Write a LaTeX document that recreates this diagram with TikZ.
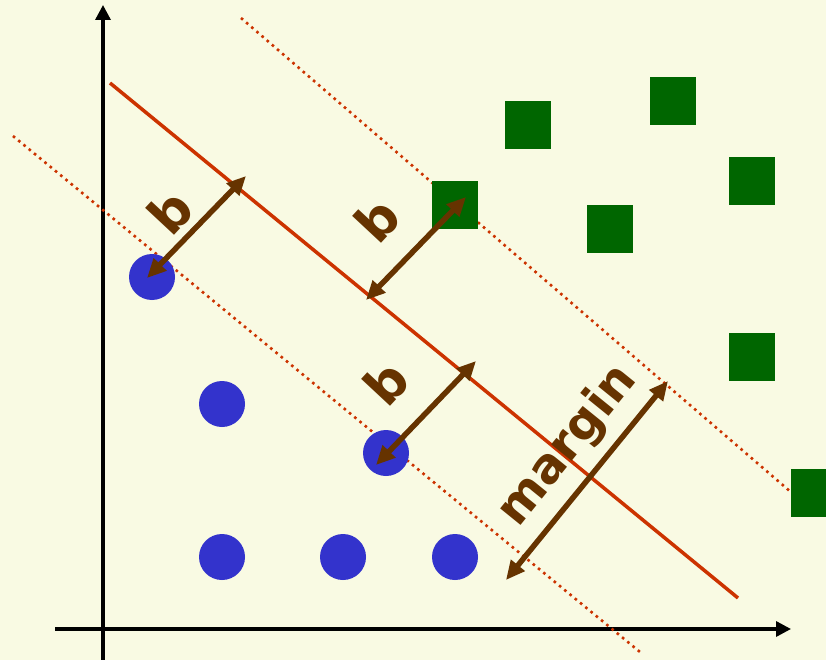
\documentclass[tikz,border=0pt]{standalone}
\usepackage{fontspec}
\newfontfamily\lblfont{DejaVu Sans}[BoldFont={DejaVu Sans Bold}]
\usetikzlibrary{arrows.meta}
\definecolor{bgc}{HTML}{F9FAE3}
\definecolor{redl}{HTML}{CC3300}
\definecolor{brn}{HTML}{663300}
\definecolor{blu}{HTML}{3333CC}
\definecolor{grn}{HTML}{006600}
\tikzset{
  axis/.style={line width=3.3pt,-{Triangle[length=15pt,width=15pt]}},
  hyper/.style={redl,line width=3.5pt},
  marginline/.style={redl,line width=2.6pt,dash pattern=on 2.6pt off 4.2pt},
  darr/.style={brn,line width=5.5pt,{Triangle[length=19pt,width=17pt]}-{Triangle[length=19pt,width=17pt]}},
  dot/.style={circle,fill=blu,minimum size=46pt,inner sep=0pt},
  sq/.style={rectangle,fill=grn,minimum width=46pt,minimum height=48pt,inner sep=0pt},
  lbl/.style={text=brn,font=\lblfont\bfseries\fontsize{52}{52}\selectfont,inner sep=0pt},
  mlbl/.style={text=brn,font=\lblfont\bfseries\fontsize{48}{48}\selectfont,inner sep=0pt}
}
\begin{document}
\begin{tikzpicture}[x=1pt,y=-1pt]
\fill[bgc] (0,0) rectangle (826,660);
\useasboundingbox (0,0) rectangle (826,660);
% axes
\coordinate (yb) at (103,660);
\coordinate (yt) at (103,5);
\coordinate (xl) at (55,629);
\coordinate (xr) at (791,629);
\draw[axis] (yb) -- (yt);
\draw[axis] (xl) -- (xr);
% separating line and margins
\coordinate (hs) at (110,83);
\coordinate (he) at (738,598);
\coordinate (us) at (241,18);
\coordinate (ue) at (792,493);
\coordinate (ls) at (13,136);
\coordinate (le) at (640,652);
\draw[marginline] (us) -- (ue);
\draw[marginline] (ls) -- (le);
\draw[hyper] (hs) -- (he);
% blue points
\node[dot] (c1) at (152,277) {};
\node[dot] (c2) at (222,404) {};
\node[dot] (c3) at (386,453) {};
\node[dot] (c4) at (222,557) {};
\node[dot] (c5) at (343,557) {};
\node[dot] (c6) at (455,557) {};
% green points
\node[sq] (s1) at (528,125) {};
\node[sq] (s2) at (673,101) {};
\node[sq] (s3) at (752,181) {};
\node[sq] (s4) at (455,205) {};
\node[sq] (s5) at (610,229) {};
\node[sq] (s6) at (752,357) {};
\node[sq] (s7) at (814,493) {};
% arrows
\coordinate (a1s) at (147,278);
\coordinate (a1e) at (246,176);
\coordinate (a2s) at (366,300);
\coordinate (a2e) at (466,197);
\coordinate (a3s) at (376,465);
\coordinate (a3e) at (476,361);
\coordinate (a4s) at (506,580);
\coordinate (a4e) at (668,381);
\draw[darr] (a1s) -- (a1e);
\draw[darr] (a2s) -- (a2e);
\draw[darr] (a3s) -- (a3e);
\draw[darr] (a4s) -- (a4e);
% labels
\node[lbl,rotate=47] (t1) at (170,212) {b};
\node[lbl,rotate=47] (t2) at (377,220) {b};
\node[lbl,rotate=47] (t3) at (386,383) {b};
\node[mlbl,rotate=51] (t4) at (568,446) {margin};
\end{tikzpicture}
\end{document}
